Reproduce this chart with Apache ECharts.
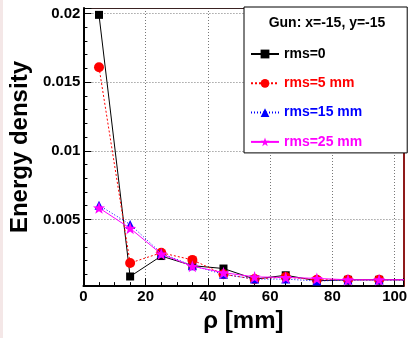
<!DOCTYPE html>
<html>
<head>
<meta charset="utf-8">
<script src="https://cdn.jsdelivr.net/npm/echarts@6/dist/echarts.min.js"></script>
<style>
  html, body { margin: 0; padding: 0; background: #fff; }
  #chart { width: 410px; height: 338px; }
</style>
</head>
<body>
<div id="chart"></div>
<script>
// rho positions [mm] (last one lies past the frame, only its line shows)
const rho = [5, 15, 25, 35, 45, 55, 65, 75, 85, 95, 105];

const rms0  = [0.0199, 0.00084, 0.00233, 0.00163, 0.00142, 0.00065, 0.00093, 0.00053, 0.0006, 0.0006, 0.0006];
const rms5  = [0.01608, 0.00182, 0.00257, 0.00205, 0.0010, 0.00065, 0.0008, 0.0006, 0.0006, 0.0006, 0.0006];
const rms15 = [0.00603, 0.00463, 0.00254, 0.00163, 0.0010, 0.00065, 0.00065, 0.00051, 0.00058, 0.00058, 0.00058];
const rms25 = [0.00584, 0.00435, 0.00248, 0.00159, 0.00112, 0.00081, 0.00077, 0.0007, 0.0006, 0.0006, 0.0006];

const seriesNames = ['rms=0', 'rms=5 mm', 'rms=15 mm', 'rms=25 mm'];
const yTickLabels = ['0.005', '0.01', '0.015', '0.02'];
const xTickLabels = ['0', '20', '40', '60', '80', '100'];

const FONT = 'Liberation Sans, Arial, Helvetica, sans-serif';

function pairs(vals) {
    return rho.map((x, i) => [x, vals[i]]);
}

var chartDom = document.getElementById('chart');
var myChart = echarts.init(chartDom, null, { renderer: 'canvas' });

const starPath = 'path://M0,-10 L2.35,-3.24 L9.51,-3.09 L3.8,1.24 L5.88,8.09 L0,4 L-5.88,8.09 L-3.8,1.24 L-9.51,-3.09 L-2.35,-3.24 Z';

const styles = [
    { color: '#000000', symbol: 'rect', size: 8, line: 'solid' },
    { color: '#ff0000', symbol: 'circle', size: 10, line: [2, 2] },
    { color: '#0000ff', symbol: 'triangle', size: 9, line: [1, 2] },
    { color: '#ff00ff', symbol: starPath, size: 12, line: 'solid' }
];
const allData = [rms0, rms5, rms15, rms25];

let series = allData.map((vals, i) => {
    return {
        name: seriesNames[i],
        type: 'line',
        data: pairs(vals),
        symbol: styles[i].symbol,
        symbolSize: styles[i].size,
        clip: true,
        itemStyle: { color: styles[i].color },
        lineStyle: { color: styles[i].color, width: 1, type: styles[i].line },
        z: 3 + i
    }
});

var option = {
    animation: false,
    backgroundColor: '#fff',
    grid: {
        left: 77,
        right: 5,
        top: 8,
        bottom: 41
    },
    xAxis: [
        {
            type: 'value',
            min: 0,
            max: 102.8,
            interval: 20,
            name: 'ρ [mm]',
            nameLocation: 'middle',
            nameGap: 15,
            nameTextStyle: { fontFamily: FONT, fontWeight: 'bold', fontSize: 24, color: '#000' },
            axisLine: { show: true, lineStyle: { color: '#000', width: 2 } },
            axisTick: { show: true, inside: true, length: 8, lineStyle: { color: '#000' } },
            minorTick: { show: true, splitNumber: 4, length: 4, lineStyle: { color: '#000' } },
            axisLabel: {
                margin: 3,
                fontFamily: FONT, fontWeight: 'bold', fontSize: 15, color: '#000',
                showMaxLabel: false,
                formatter: function (v) {
                    let s = String(Math.round(v * 100) / 100);
                    return xTickLabels.indexOf(s) >= 0 ? s : '';
                }
            },
            splitLine: { show: true, lineStyle: { color: '#777', type: [1, 2] } }
        },
        {
            type: 'value',
            position: 'top',
            min: 0,
            max: 102.8,
            axisLine: { show: true, onZero: false, lineStyle: { color: '#3a2222', width: 1 } },
            axisTick: { show: false },
            axisLabel: { show: false },
            splitLine: { show: false }
        }
    ],
    yAxis: [
        {
            type: 'value',
            min: 0.00014,
            max: 0.0204,
            minInterval: 0.005,
            maxInterval: 0.005,
            name: 'Energy density',
            nameLocation: 'middle',
            nameGap: 42,
            nameTextStyle: { fontFamily: FONT, fontWeight: 'bold', fontSize: 24, color: '#000' },
            axisLine: { show: true, lineStyle: { color: '#000', width: 2 } },
            axisTick: { show: true, inside: true, length: 8, lineStyle: { color: '#000' } },
            minorTick: { show: true, splitNumber: 5, length: 4, lineStyle: { color: '#000' } },
            axisLabel: {
                margin: 3,
                fontFamily: FONT, fontWeight: 'bold', fontSize: 15, color: '#000',
                formatter: function (v) {
                    let s = String(Math.round(v * 1000) / 1000);
                    return yTickLabels.indexOf(s) >= 0 ? s : '';
                }
            },
            splitLine: { show: true, lineStyle: { color: '#777', type: [1, 2] } }
        },
        {
            type: 'value',
            position: 'right',
            min: 0.00014,
            max: 0.0204,
            axisLine: { show: true, onZero: false, lineStyle: { color: '#8e1a1a', width: 2 } },
            axisTick: { show: false },
            axisLabel: { show: false },
            splitLine: { show: false }
        }
    ],
    legend: {
        orient: 'vertical',
        left: 244,
        top: 7,
        padding: [40, 45, 4, 6],
        itemWidth: 28,
        itemHeight: 11,
        itemGap: 15.3,
        backgroundColor: '#fff',
        borderColor: '#000',
        borderWidth: 1,
        borderRadius: 0,
        z: 10,
        data: seriesNames.map((n, i) => ({
            name: n,
            textStyle: { color: styles[i].color }
        })),
        textStyle: { fontFamily: FONT, fontWeight: 'bold', fontSize: 14, lineHeight: 14 }
    },
    graphic: [
        {
            type: 'rect',
            left: 0, top: 0,
            shape: { width: 3, height: 338 },
            style: { fill: '#f4e7e7' },
            silent: true
        },
        {
            type: 'text',
            x: 327, y: 23,
            z: 20,
            style: {
                text: 'Gun: x=-15, y=-15',
                fontFamily: FONT, fontWeight: 'bold', fontSize: 14,
                fill: '#000',
                align: 'center',
                verticalAlign: 'middle'
            }
        }
    ],
    series: series
};

option && myChart.setOption(option);
</script>
</body>
</html>
